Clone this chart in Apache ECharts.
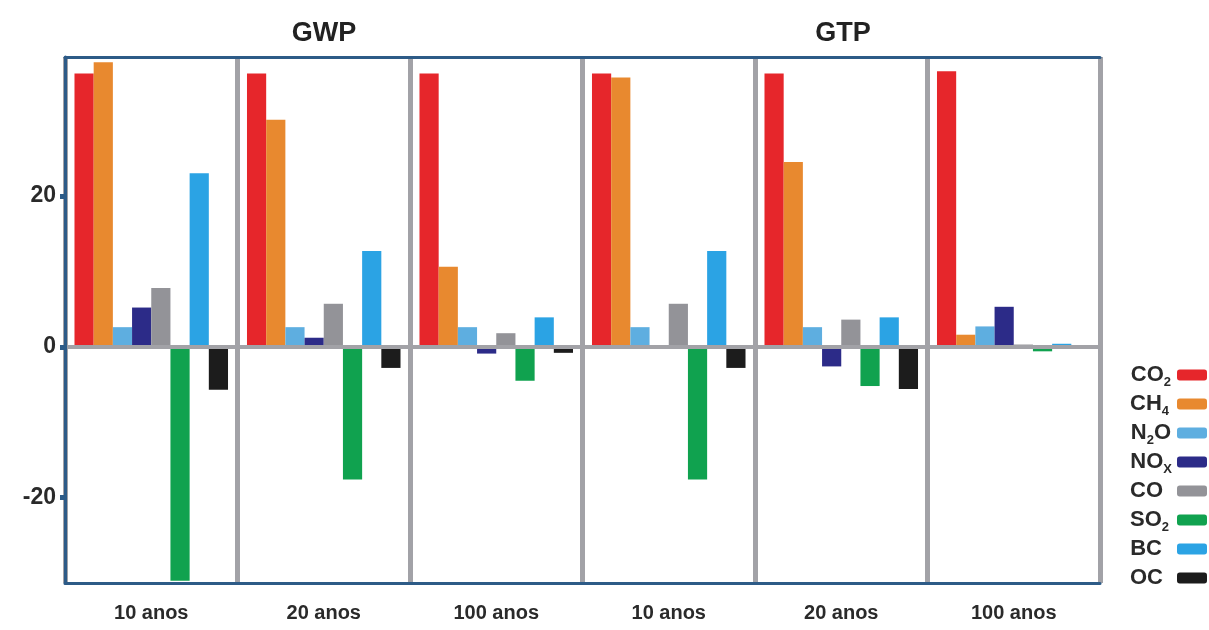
<!DOCTYPE html>
<html>
<head>
<meta charset="utf-8">
<script src="https://cdn.jsdelivr.net/npm/echarts@6/dist/echarts.min.js"></script>
<style>
html,body{margin:0;padding:0;background:#fff;}
#chart{width:1209px;height:630px;}
</style>
</head>
<body>
<div id="chart"></div>
<script>
// Categories (x axis) and panel titles
const categories = ['10 anos', '20 anos', '100 anos', '10 anos ', '20 anos ', '100 anos '];
const groupTitles = ['GWP', 'GTP'];
const yTicks = [-20, 0, 20];

// Series values, one per category (GWP 10/20/100, GTP 10/20/100)
const CO2 = [36.2, 36.2, 36.2, 36.2, 36.2, 36.5];
const CH4 = [37.7, 30.1, 10.6, 35.7, 24.5, 1.6];
const N2O = [2.6, 2.6, 2.6, 2.6, 2.6, 2.7];
const NOx = [5.2, 1.2, -0.9, 0, -2.6, 5.3];
const CO  = [7.8, 5.7, 1.8, 5.7, 3.6, 0.3];
const SO2 = [-31.0, -17.6, -4.5, -17.6, -5.2, -0.6];
const BC  = [23.0, 12.7, 3.9, 12.7, 3.9, 0.4];
const OC  = [-5.7, -2.8, -0.8, -2.8, -5.6, 0];

const seriesNames = ['CO2', 'CH4', 'N2O', 'NOx', 'CO', 'SO2', 'BC', 'OC'];
const seriesData = [CO2, CH4, N2O, NOx, CO, SO2, BC, OC];
const seriesColors = ['#e6262b', '#e8892f', '#5eaee0', '#2c2b88', '#939398', '#10a24f', '#2ba3e4', '#1c1c1c'];
// legend label parts: [main, subscript, main-after]
const legendParts = {
  CO2: ['CO', '2', ''], CH4: ['CH', '4', ''], N2O: ['N', '2', 'O'], NOx: ['NO', 'X', ''],
  CO: ['CO', '', ''], SO2: ['SO', '2', ''], BC: ['BC', '', ''], OC: ['OC', '', '']
};

const FONT = '"Liberation Sans", Arial, Helvetica, sans-serif';
const BLUE = '#2d5b87';
const GREY = '#a2a2a7';
const MAIN_FS = 22, SUB_FS = 13;

// measure label widths so that legend text can be left aligned
const ctx = document.createElement('canvas').getContext('2d');
function tw(t, fs) { ctx.font = 'bold ' + fs + 'px ' + FONT; return t ? ctx.measureText(t).width : 0; }
const labelWidths = {};
seriesNames.forEach(n => {
  const p = legendParts[n];
  labelWidths[n] = tw(p[0], MAIN_FS) + tw(p[1], SUB_FS) + tw(p[2], MAIN_FS);
});
const maxW = Math.max(...Object.values(labelWidths));
function legendLabel(n) {
  const p = legendParts[n];
  let s = '{m|' + p[0] + '}';
  if (p[1]) s += '{s|' + p[1] + '}';
  if (p[2]) s += '{m|' + p[2] + '}';
  const pad = Math.round(maxW - labelWidths[n]);
  if (pad > 0) s += '{p|\u00a0}'.replace('p|', 'p' + pad + '|');
  return s;
}
const richStyles = {
  m: {fontFamily: FONT, fontSize: MAIN_FS, fontWeight: 'bold', color: '#2a2a2a', lineHeight: 28},
  s: {fontFamily: FONT, fontSize: SUB_FS, fontWeight: 'bold', color: '#2a2a2a', verticalAlign: 'bottom', lineHeight: 14}
};
seriesNames.forEach(n => {
  const pad = Math.round(maxW - labelWidths[n]);
  if (pad > 0) richStyles['p' + pad] = {width: pad, fontSize: 4, lineHeight: 28};
});

const chart = echarts.init(document.getElementById('chart'), null, {renderer: 'canvas'});

const series = seriesNames.map((name, i) => {
  const s = {
    name: name,
    type: 'bar',
    data: seriesData[i],
    itemStyle: {color: seriesColors[i]},
    barGap: '0%',
    barCategoryGap: '11%'
  };
  if (i === 0) {
    s.markLine = {
      silent: true,
      symbol: ['none', 'none'],
      label: {show: false},
      lineStyle: {color: GREY, width: 4, type: 'solid'},
      data: [{yAxis: 0}],
      animation: false
    };
  }
  return s;
});

chart.setOption({
  animation: false,
  backgroundColor: '#ffffff',
  title: [
    {text: groupTitles[0], left: 324, top: 20, textAlign: 'center', padding: 0,
     textStyle: {fontFamily: FONT, fontSize: 27, fontWeight: 'bold', color: '#222'}},
    {text: groupTitles[1], left: 843, top: 20, textAlign: 'center', padding: 0,
     textStyle: {fontFamily: FONT, fontSize: 27, fontWeight: 'bold', color: '#222'}}
  ],
  legend: {
    orient: 'vertical',
    right: 2,
    top: 361,
    padding: 0,
    align: 'right',
    itemWidth: 30,
    itemHeight: 11,
    itemGap: 1,
    icon: 'roundRect',
    data: seriesNames,
    formatter: name => legendLabel(name),
    textStyle: {
      fontFamily: FONT, fontSize: MAIN_FS, fontWeight: 'bold', color: '#2a2a2a', lineHeight: 28,
      rich: richStyles
    }
  },
  grid: {left: 65, right: 109, top: 57, bottom: 47, containLabel: false},
  xAxis: [
    {
      type: 'category',
      data: categories,
      position: 'bottom',
      axisLine: {onZero: false, lineStyle: {color: BLUE, width: 3}},
      axisTick: {show: false},
      axisLabel: {margin: 20, fontFamily: FONT, fontSize: 20, fontWeight: 'bold', color: '#2a2a2a',
                  formatter: v => v.trim()},
      splitLine: {show: true, interval: 0, lineStyle: {color: GREY, width: 5}}
    },
    {
      type: 'category',
      data: categories,
      position: 'top',
      axisLine: {show: true, onZero: false, lineStyle: {color: BLUE, width: 3}},
      axisTick: {show: false},
      axisLabel: {show: false},
      splitLine: {show: false}
    }
  ],
  yAxis: {
    type: 'value',
    min: -31.3,
    max: 38.4,
    z: 5,
    axisLine: {show: true, lineStyle: {color: BLUE, width: 3}},
    axisTick: {show: true, customValues: yTicks, length: 5, lineStyle: {color: BLUE, width: 5}},
    axisLabel: {customValues: yTicks, margin: 9, fontFamily: FONT, fontSize: 23, fontWeight: 'bold', color: '#2a2a2a'},
    splitLine: {show: false}
  },
  series: series
});
</script>
</body>
</html>
